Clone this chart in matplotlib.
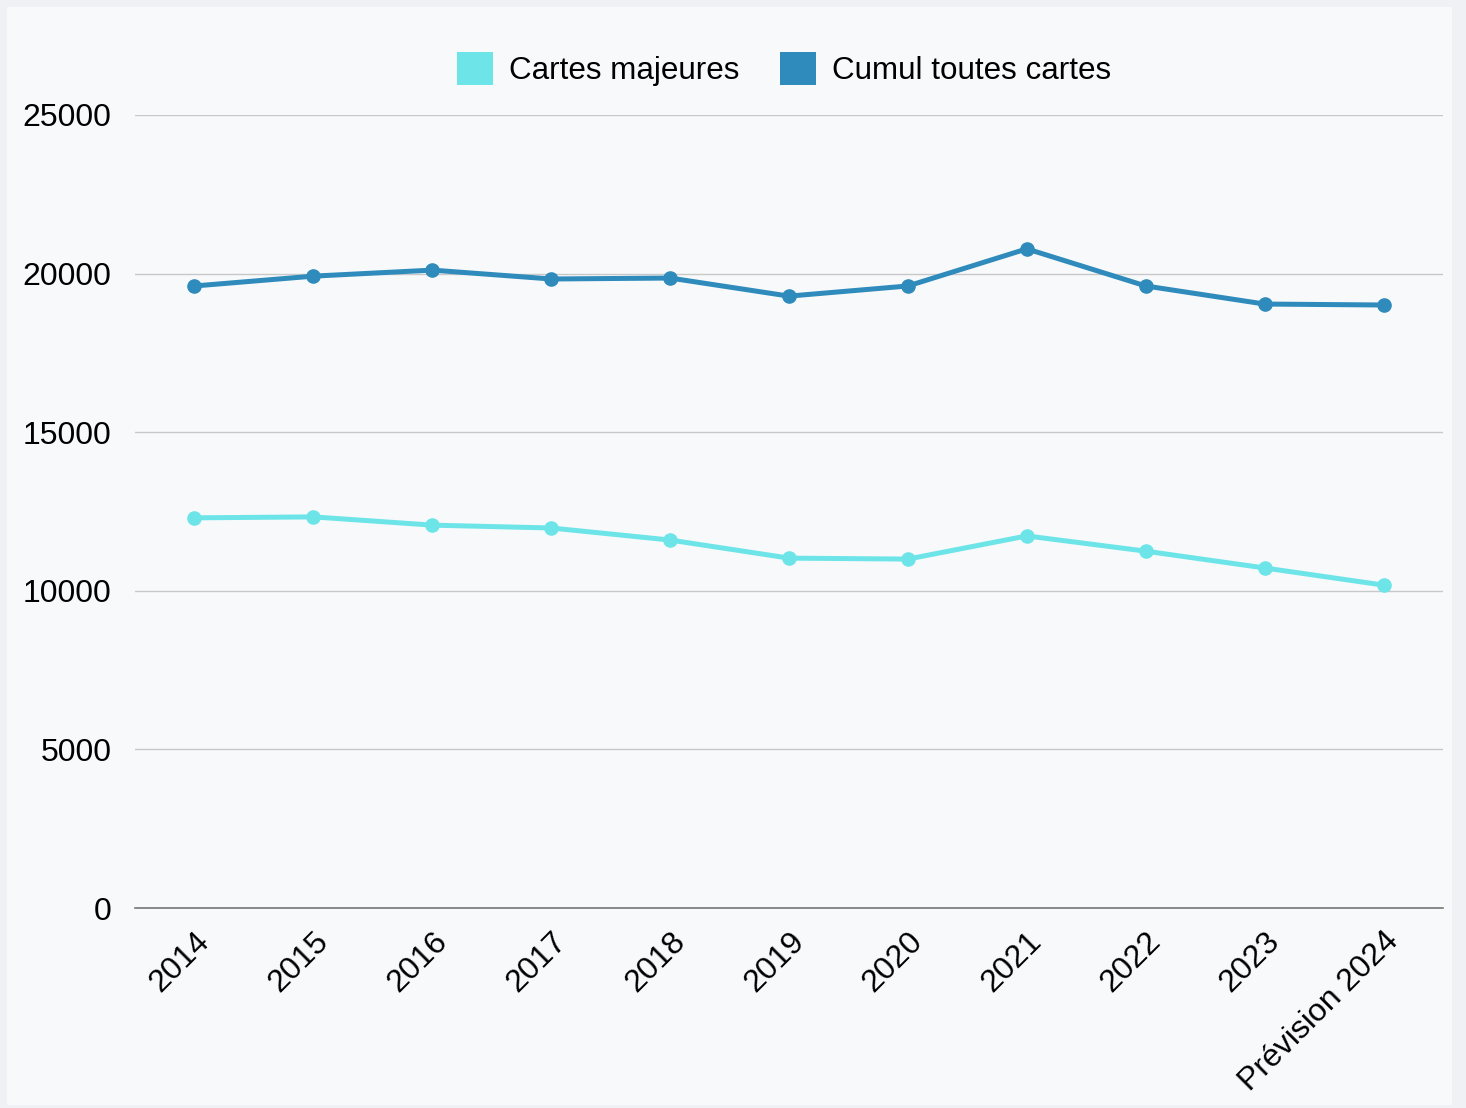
import matplotlib.pyplot as plt
from matplotlib.patches import Rectangle, Patch

plt.rcParams['font.family'] = ['Liberation Sans', 'DejaVu Sans']

# Data
years = ['2014', '2015', '2016', '2017', '2018', '2019', '2020', '2021', '2022', '2023', 'Prévision 2024']
cartes_majeures = [12300, 12330, 12070, 11980, 11600, 11030, 11000, 11730, 11250, 10720, 10180]
cumul_toutes = [19610, 19920, 20110, 19830, 19860, 19290, 19610, 20780, 19610, 19040, 19010]

c_light = '#6de5e8'
c_dark = '#2e8bbb'

fig = plt.figure(figsize=(14.66, 11.08), dpi=100)
fig.patch.set_facecolor('#eff1f4')
# inner panel background
fig.patches.append(Rectangle((7 / 1466, 3 / 1108), 1445 / 1466, 1098 / 1108,
                             transform=fig.transFigure, facecolor='#f8f9fb',
                             edgecolor='none', zorder=-1))

ax = fig.add_axes([135 / 1466, 200 / 1108, 1308 / 1466, 793 / 1108])
ax.set_facecolor('none')

x = range(len(years))
ax.plot(x, cartes_majeures, color=c_light, lw=3.6, marker='o', ms=9.5, zorder=3)
ax.plot(x, cumul_toutes, color=c_dark, lw=3.6, marker='o', ms=9.5, zorder=3)

ax.set_xlim(-0.5, len(years) - 0.5)
ax.set_ylim(0, 25000)
ax.set_yticks([0, 5000, 10000, 15000, 20000, 25000])
ax.set_xticks(list(x))
ax.set_xticklabels(years, rotation=45, ha='right', rotation_mode='anchor')

ax.grid(axis='y', color='#c8c8c8', lw=1)
ax.set_axisbelow(True)
for s in ['top', 'right', 'left']:
    ax.spines[s].set_visible(False)
ax.spines['bottom'].set_color('#777777')
ax.spines['bottom'].set_linewidth(1.2)
ax.tick_params(axis='both', length=0, labelsize=23, colors='black')
ax.tick_params(axis='y', pad=17)
ax.tick_params(axis='x', pad=13)

handles = [Patch(facecolor=c_light, label='Cartes majeures'),
           Patch(facecolor=c_dark, label='Cumul toutes cartes')]
fig.legend(handles=handles, loc='center', bbox_to_anchor=(784 / 1466, 1 - 69 / 1108),
           ncol=2, frameon=False, fontsize=22.6, handlelength=1.15, handleheight=1.25,
           handletextpad=0.5, columnspacing=1.3)

fig.savefig('out.png', dpi=100, facecolor=fig.get_facecolor())
